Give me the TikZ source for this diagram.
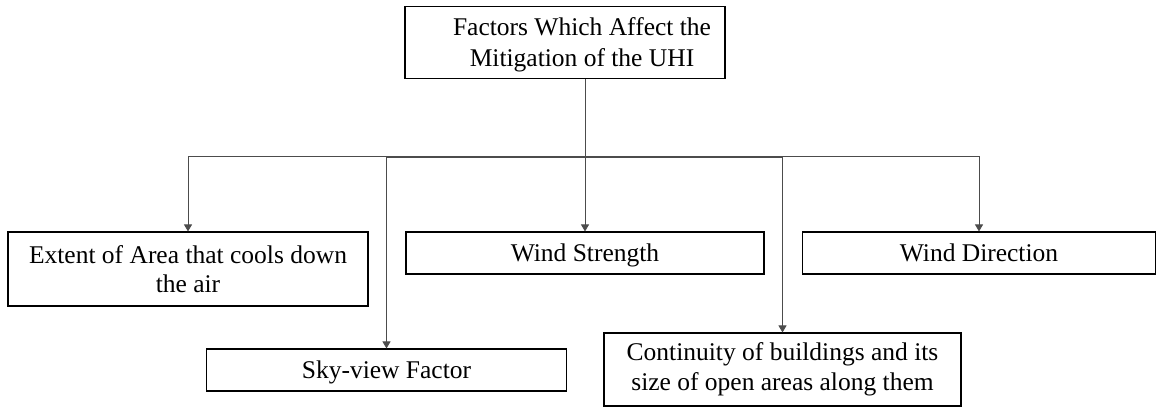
\documentclass[tikz,border=0pt]{standalone}
\usepackage{fontspec}
\setmainfont{Liberation Serif}
\usetikzlibrary{arrows.meta}
\begin{document}
\begin{tikzpicture}[x=1pt,y=-1pt,
  box/.style={draw=black, line width=1.1pt, inner sep=0pt, align=center,
    font=\fontsize{25.5}{29.5}\selectfont},
  onebox/.style={box, text depth=0pt},
  plain/.style={inner sep=0pt, align=center, font=\fontsize{25.5}{30.5}\selectfont},
  conn/.style={draw=black!70, line width=0.9pt},
  arr/.style={conn, -{Triangle[width=8pt,length=7pt]}}]
\useasboundingbox (0,0) rectangle (1156,407);
% boxes
\node[box, minimum width=320pt, minimum height=72.5pt] (top) at (565,42.5) {};
\node[plain] (toptext) at (582,45) {Factors Which Affect the\\Mitigation of the UHI};
\node[box, minimum width=360pt, minimum height=74pt] (ext) at (188,269) {Extent of Area that cools down\\the air};
\node[onebox, minimum width=358pt, minimum height=42pt] (str) at (585,253) {Wind Strength};
\node[onebox, minimum width=353pt, minimum height=42pt] (dir) at (979,253) {Wind Direction};
\node[onebox, minimum width=360pt, minimum height=42pt] (sky) at (386.5,370) {Sky-view Factor};
\node[box, minimum width=357pt, minimum height=73pt] (cont) at (782.5,369.5) {Continuity of buildings and its\\size of open areas along them};
% connectors
\coordinate (bus) at (585,156);
\coordinate (bus2) at (585,157);
\draw[conn] (top.south -| bus) -- (bus);
\draw[arr] (bus) -| (ext.north);
\draw[arr] (bus) -- (str.north);
\draw[arr] (bus) -| (dir.north);
\draw[arr] (bus2) -| (sky.north);
\draw[arr] (bus2) -| (cont.north);
\end{tikzpicture}
\end{document}
